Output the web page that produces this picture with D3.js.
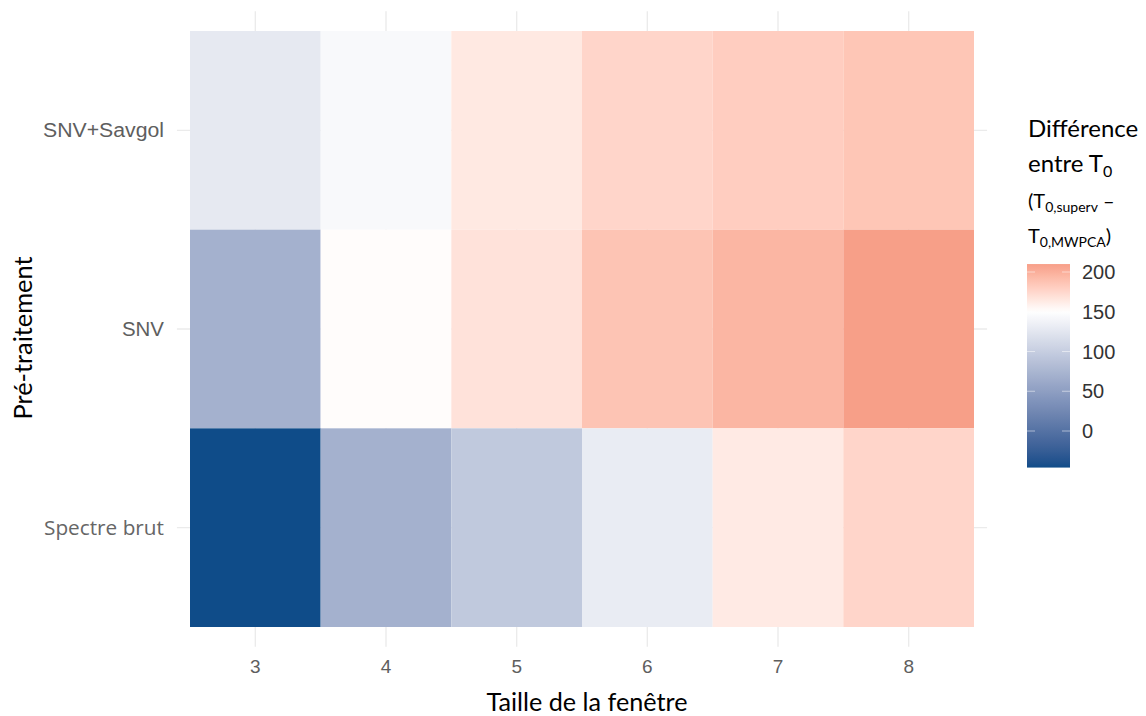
<!DOCTYPE html>
<html><head><meta charset="utf-8">
<script src="https://cdn.jsdelivr.net/npm/d3@7"></script>
<style>body{margin:0;background:#fff}</style>
</head><body>
<svg id="c" width="1146" height="716"></svg>
<script>
const windowSizes = ["3","4","5","6","7","8"];
const pretreatments = ["SNV+Savgol","SNV","Spectre brut"];
const valSavgol = [128, 144, 164, 176, 181, 186];
const valSNV    = [70, 152, 168, 187, 196, 210];
const valBrut   = [-46, 70, 95, 131, 163, 176];
const legendTicks = [0, 50, 100, 150, 200];
const colorLimits = [-46, 150, 210];

const rows = {"SNV+Savgol": valSavgol, "SNV": valSNV, "Spectre brut": valBrut};
const cells = [];
pretreatments.forEach(p => rows[p].forEach((v,i) => cells.push({p, w: windowSizes[i], v})));

const svg = d3.select("#c");
const tileL = 190, tileR = 974, tileT = 31, tileB = 627;
const x = d3.scaleBand().domain(windowSizes).range([tileL, tileR]);
const y = d3.scaleBand().domain(pretreatments).range([tileT, tileB]);
const color = d3.scaleLinear().domain(colorLimits)
  .range(["#0f4c89", "#ffffff", "#f79f88"]).interpolate(d3.interpolateLab).clamp(true);

const padX = x.bandwidth()*0.1, padY = y.bandwidth()*0.1;
const grid = svg.append("g");
windowSizes.forEach(w => {
  const cx = x(w) + x.bandwidth()/2;
  grid.append("line").attr("x1", cx).attr("x2", cx).attr("y1", tileT - padY).attr("y2", tileB + padY)
    .attr("stroke", "#ebebeb").attr("stroke-width", 1.4);
});
pretreatments.forEach(p => {
  const cy = y(p) + y.bandwidth()/2;
  grid.append("line").attr("x1", tileL - padX).attr("x2", tileR + padX).attr("y1", cy).attr("y2", cy)
    .attr("stroke", "#ebebeb").attr("stroke-width", 1.4);
});

svg.append("g").selectAll("rect").data(cells).join("rect")
  .attr("x", d => x(d.w)).attr("y", d => y(d.p))
  .attr("width", x.bandwidth()).attr("height", y.bandwidth())
  .attr("fill", d => color(d.v));

// x tick labels
svg.append("g").selectAll("text").data(windowSizes).join("text")
  .attr("x", d => x(d) + x.bandwidth()/2).attr("y", 673)
  .attr("text-anchor", "middle").attr("font-family", "Liberation Sans, Arial").attr("font-size", 19)
  .attr("fill", "#5e5e5e").text(d => d);

// y tick labels
const yLabelW = {"SNV+Savgol": 121, "SNV": 42, "Spectre brut": 120};
svg.append("g").selectAll("text").data(pretreatments).join("text")
  .attr("x", 164).attr("y", d => y(d) + y.bandwidth()/2 + 7)
  .attr("text-anchor", "end")
  .attr("font-family", d => d === "Spectre brut" ? "Open Sans" : "Liberation Sans, Arial")
  .attr("font-size", 20)
  .attr("textLength", d => yLabelW[d]).attr("lengthAdjust", "spacingAndGlyphs")
  .attr("fill", d => d === "Spectre brut" ? "#666" : "#5e5e5e").text(d => d);

// axis titles
svg.append("text").attr("x", 587).attr("y", 711).attr("text-anchor", "middle")
  .attr("font-family", "Lato").attr("font-size", 25)
  .attr("textLength", 201).attr("lengthAdjust", "spacingAndGlyphs")
  .attr("fill", "#000").text("Taille de la fenêtre");
svg.append("text").attr("transform", "translate(32,338) rotate(-90)").attr("text-anchor", "middle")
  .attr("font-family", "Lato").attr("font-size", 25)
  .attr("textLength", 163).attr("lengthAdjust", "spacingAndGlyphs")
  .attr("fill", "#000").text("Pré-traitement");

// legend title
const lt = svg.append("g").attr("font-family", "Lato").attr("fill", "#000");
lt.append("text").attr("x", 1028).attr("y", 137).attr("font-size", 24).text("Différence");
const t2 = lt.append("text").attr("x", 1028).attr("y", 172).attr("font-size", 24);
t2.append("tspan").text("entre T");
t2.append("tspan").attr("font-size", 16).attr("dy", 5).text("0");
const t3 = lt.append("text").attr("x", 1028).attr("y", 208).attr("font-size", 20);
t3.append("tspan").text("(T");
t3.append("tspan").attr("font-size", 14).attr("dy", 4).text("0,superv");
t3.append("tspan").attr("dy", -4).text(" –");
const t4 = lt.append("text").attr("x", 1028).attr("y", 243).attr("font-size", 20);
t4.append("tspan").text("T");
t4.append("tspan").attr("font-size", 14).attr("dy", 4).text("0,MWPCA");
t4.append("tspan").attr("dy", -4).text(")");

// legend colorbar
const barX = 1027, barW = 43, barB = 468;
const ly = d3.scaleLinear().domain([0, 200]).range([431, 272]);
const barT = ly(colorLimits[2]);
const defs = svg.append("defs");
const grad = defs.append("linearGradient").attr("id", "lg").attr("x1", 0).attr("x2", 0).attr("y1", 1).attr("y2", 0);
d3.range(0, 1.0001, 0.02).forEach(t => {
  const v = colorLimits[0] + t*(colorLimits[2]-colorLimits[0]);
  grad.append("stop").attr("offset", t).attr("stop-color", color(v));
});
svg.append("rect").attr("x", barX).attr("y", barT).attr("width", barW).attr("height", ly(colorLimits[0]) - barT).attr("fill", "url(#lg)");
const lg = svg.append("g");
legendTicks.forEach(v => {
  const yy = ly(v);
  lg.append("line").attr("x1", barX).attr("x2", barX + 8).attr("y1", yy).attr("y2", yy).attr("stroke", "#fff").attr("stroke-opacity", 0.5);
  lg.append("line").attr("x1", barX + barW - 8).attr("x2", barX + barW).attr("y1", yy).attr("y2", yy).attr("stroke", "#fff").attr("stroke-opacity", 0.5);
  lg.append("text").attr("x", 1082).attr("y", yy + 7).attr("font-family", "Liberation Sans, Arial")
    .attr("font-size", 20).attr("fill", "#333").text(v);
});
</script>
</body></html>
